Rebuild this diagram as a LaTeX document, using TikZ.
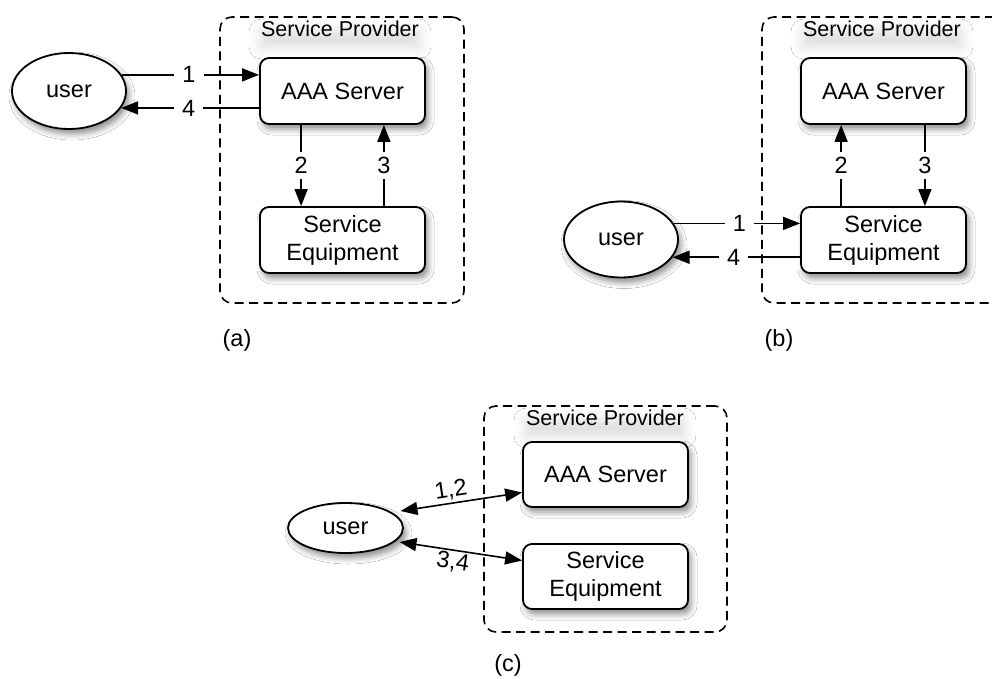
\documentclass[tikz,border=0pt]{standalone}
\usepackage{fontspec}
\setmainfont{Liberation Sans}
\usetikzlibrary{shapes.geometric,arrows.meta,calc,shadows.blur}
\newcommand{\mainsz}{\fontsize{23.5}{28}\selectfont}
\newcommand{\grpsz}{\fontsize{21.5}{25}\selectfont}
\tikzset{
  shd/.style={blur shadow={shadow xshift=3pt, shadow yshift=-5pt, shadow blur radius=6pt, shadow opacity=45}},
  box/.style={draw, rounded corners=9pt, fill=white, line width=1.8pt, minimum width=165pt, minimum height=66pt, align=center, font=\mainsz, inner sep=0pt, shd},
  usr/.style={ellipse, draw, fill=white, line width=1.8pt, font=\mainsz, inner sep=0pt, shd},
  grp/.style={draw, line width=1.6pt, dash pattern=on 9pt off 5.5pt, rounded corners=12pt, fill=white},
  grplbl/.style={font=\grpsz, inner xsep=0pt, inner ysep=0pt, blur shadow={shadow xshift=0pt, shadow yshift=-10pt, shadow blur radius=12pt, shadow opacity=14}},
  arr/.style={line width=1.6pt, -{Triangle[length=17pt,width=13pt]}},
  darr/.style={line width=1.6pt, {Triangle[length=17pt,width=13pt]}-{Triangle[length=17pt,width=13pt]}},
  lbl/.style={fill=white, inner xsep=8pt, inner ysep=5pt, font=\mainsz},
  slbl/.style={inner sep=2pt, font=\mainsz, sloped},
  captxt/.style={font=\mainsz}
}
\begin{document}
\begin{tikzpicture}[x=1pt, y=-1pt]
\clip (0,0) rectangle (992,678);
\fill[white] (0,0) rectangle (992,678);

% ---------- (a) ----------
\node[grp, minimum width=244pt, minimum height=286pt] (spa) at (342,160) {};
\node[grplbl] (spalbl) at (340,29) {Service Provider};
\node[box] (aaaa) at (342.5,91) {AAA Server};
\node[box] (sea) at (342.5,240) {Service\\Equipment};
\node[usr, minimum width=114pt, minimum height=76pt] (ua) at (69,91) {user};
\draw[arr] (ua.17) -- node[lbl, pos=0.49] {1} (ua.17 -| aaaa.west);
\draw[arr] (ua.-18 -| aaaa.west) -- node[lbl, pos=0.51] {4} (ua.-18);
\draw[arr] ($(aaaa.south west)+(42,0)$) -- node[lbl, pos=0.5] {2} ($(sea.north west)+(42,0)$);
\draw[arr] ($(sea.north east)+(-42,0)$) -- node[lbl, pos=0.5] {3} ($(aaaa.south east)+(-42,0)$);
\node[captxt] (capa) at (237,340) {(a)};

% ---------- (b) ----------
\node[grp, minimum width=244pt, minimum height=286pt] (spb) at (884,160) {};
\node[grplbl] (spblbl) at (882,29) {Service Provider};
\node[box] (aaab) at (883.5,91) {AAA Server};
\node[box] (seb) at (883.5,240) {Service\\Equipment};
\node[usr, minimum width=114pt, minimum height=76pt] (ub) at (621,239.5) {user};
\draw[arr] (ub.17) -- node[lbl, pos=0.52] {1} (ub.17 -| seb.west);
\draw[arr] (ub.-19 -| seb.west) -- node[lbl, pos=0.52] {4} (ub.-19);
\draw[arr] ($(seb.north west)+(41,0)$) -- node[lbl, pos=0.5] {2} ($(aaab.south west)+(41,0)$);
\draw[arr] ($(aaab.south east)+(-42,0)$) -- node[lbl, pos=0.5] {3} ($(seb.north east)+(-42,0)$);
\node[captxt] (capb) at (779,340) {(b)};

% ---------- (c) ----------
\node[grp, minimum width=243pt, minimum height=226pt] (spc) at (605.5,519) {};
\node[grplbl] (spclbl) at (605,418) {Service Provider};
\node[box, minimum height=65pt] (aaac) at (605.5,474.5) {AAA Server};
\node[box, minimum height=65pt] (sec) at (605.5,576.5) {Service\\Equipment};
\node[usr, minimum width=115pt, minimum height=50pt] (uc) at (345.5,528) {user};
\draw[darr] ($(uc.center)+(55,-17)$) -- node[slbl, above, pos=0.43] {1,2} ($(aaac.west)+(0,18)$);
\draw[darr] ($(uc.center)+(54,14)$) -- node[slbl, below, pos=0.45] {3,4} ($(sec.west)+(0,-16)$);
\node[captxt] (capc) at (508,665) {(c)};
\end{tikzpicture}
\end{document}
